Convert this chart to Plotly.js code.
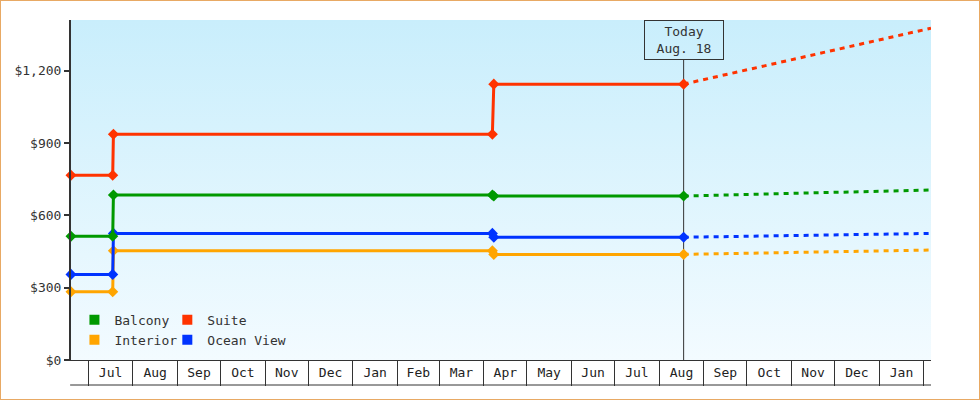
<!DOCTYPE html>
<html><head><meta charset="utf-8">
<script src="https://cdn.plot.ly/plotly-3.0.1.min.js"></script>
<style>
html,body{margin:0;padding:0;background:#fff;}
#wrap{position:relative;width:980px;height:400px;overflow:hidden;}
#bg{position:absolute;left:71px;top:20px;width:860px;height:340px;background:linear-gradient(to bottom,#c9eefc,#f3fbff);}
#chart{position:absolute;left:0;top:0;width:980px;height:400px;}
#frame{position:absolute;left:0;top:0;width:980px;height:400px;box-sizing:border-box;border:1px solid #e8a964;pointer-events:none;}
</style></head>
<body><div id="wrap"><div id="bg"></div><div id="chart"></div><div id="frame"></div></div>
<script>
// ---- data ----
const dates = ['2023-06-19','2023-07-18','2023-07-18 12:00','2024-04-07','2024-04-08','2024-08-18'];
const projDates = ['2024-08-18','2025-02-06'];
const interior = [283,283,453,453,438,438];
const oceanView = [355,355,525,525,509,509];
const balcony = [513,513,684,684,680,680];
const suite = [766,766,936,936,1144,1144];
const interiorProj = [438,456];
const oceanViewProj = [509,525];
const balconyProj = [680,705];
const suiteProj = [1144,1376];
const yTicks = [0,300,600,900,1200];
const yTickLabels = ['$0','$300','$600','$900','$1,200'];
const todayDate = '2024-08-18';
const todayLabel = 'Today<br>Aug. 18';
const xRange = ['2023-06-19','2025-02-06'];

const FONT = 'DejaVu Sans Mono, monospace';
const series = [
  {name:'Interior', y:interior, proj:interiorProj, color:'#ffa500', legend:'legend'},
  {name:'Ocean View', y:oceanView, proj:oceanViewProj, color:'#0033ff', legend:'legend2'},
  {name:'Balcony', y:balcony, proj:balconyProj, color:'#009900', legend:'legend'},
  {name:'Suite', y:suite, proj:suiteProj, color:'#ff3300', legend:'legend2'}
];
const traces = [];
series.forEach(s => {
  traces.push({type:'scatter', mode:'lines', x:projDates, y:s.proj, showlegend:false,
    line:{color:s.color, width:3, dash:'5px,5px'}, hoverinfo:'skip'});
});
series.forEach(s => {
  traces.push({type:'scatter', mode:'lines+markers', x:dates, y:s.y, name:s.name, showlegend:false,
    line:{color:s.color, width:3}, marker:{symbol:'diamond', size:8.5, color:s.color}, cliponaxis:false});
});
// legend entries (order: Balcony, Interior | Suite, Ocean View)
['Balcony','Interior','Suite','Ocean View'].forEach(n => {
  const s = series.find(t => t.name === n);
  traces.push({type:'scatter', mode:'markers', x:[null], y:[null], name:n, legend:s.legend,
    marker:{symbol:'square', size:10, color:s.color}, hoverinfo:'skip'});
});

const legendCommon = {bgcolor:'rgba(0,0,0,0)', borderwidth:0, font:{family:FONT, size:13, color:'#333'},
  xanchor:'left', yanchor:'top', y:0.162, traceorder:'normal', itemclick:false};

const layout = {
  width:980, height:400,
  margin:{l:71, r:49, t:20, b:40, pad:0},
  paper_bgcolor:'rgba(0,0,0,0)', plot_bgcolor:'rgba(0,0,0,0)',
  font:{family:FONT, size:13, color:'#333'},
  showlegend:true,
  legend:Object.assign({}, legendCommon, {x:0.004}),
  legend2:Object.assign({}, legendCommon, {x:0.112}),
  xaxis:{type:'date', range:xRange, tick0:'2023-07-01', dtick:'M1', tickformat:'%b', ticklabelmode:'period',
    ticks:'outside', ticklen:25, tickwidth:1, tickcolor:'#333', showline:true, linecolor:'#333', linewidth:1,
    showgrid:false, zeroline:false, ticklabelstandoff:-25, tickfont:{family:FONT, size:13, color:'#222'}},
  yaxis:{range:[0,1410], tickvals:yTicks, ticktext:yTickLabels, ticks:'outside', ticklen:5, tickwidth:2,
    tickcolor:'#333', showline:true, linecolor:'#333', linewidth:2, showgrid:false, zeroline:false,
    tickfont:{family:FONT, size:13, color:'#333'}},
  shapes:[
    {type:'line', xref:'x', yref:'paper', x0:todayDate, x1:todayDate, y0:0, y1:0.8824, line:{color:'#333', width:1}, layer:'below'},
    {type:'line', xref:'paper', yref:'paper', x0:-0.001, x1:1, y0:-25/340, y1:-25/340, line:{color:'#333', width:1}}
  ],
  annotations:[
    {x:todayDate, xref:'x', y:1, yref:'paper', xanchor:'center', yanchor:'top', text:todayLabel, showarrow:false,
     bordercolor:'#333', borderwidth:1, borderpad:1, width:76, height:36, font:{family:FONT, size:13, color:'#333'}}
  ]
};
Plotly.newPlot('chart', traces, layout, {displayModeBar:false, staticPlot:true});
</script></body></html>
